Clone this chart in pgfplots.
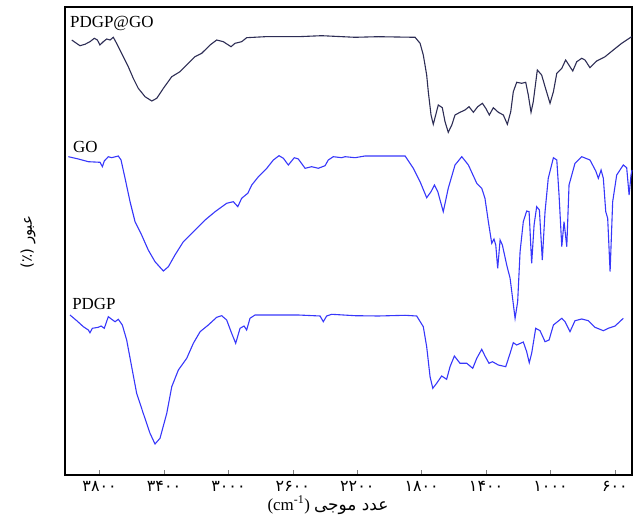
\documentclass[border=0pt]{standalone}
\usepackage{pgfplots}
\pgfplotsset{compat=1.18}
\usepackage{fontspec}
\setmainfont{Liberation Serif}
\newfontfamily\arabicfont[Script=Arabic]{DejaVu Sans}
\TeXXeTstate=1
\definecolor{navy}{RGB}{45,45,85}
\definecolor{irblue}{RGB}{55,55,250}
\begin{document}
\begin{tikzpicture}
\begin{axis}[name=ax,
  scale only axis, width=567bp, height=468bp,
  x dir=reverse, xmin=494, xmax=4015, ymin=0, ymax=468,
  axis line style={line width=1.6bp},
  xtick={600,1000,1400,1800,2200,2600,3000,3400,3800},
  xticklabels={۶۰۰,۱۰۰۰,۱۴۰۰,۱۸۰۰,۲۲۰۰,۲۶۰۰,۳۰۰۰,۳۴۰۰,۳۸۰۰},
  xticklabel style={font=\arabicfont\fontsize{16}{16}\selectfont, anchor=base, inner sep=0pt, yshift=-16bp},
  ytick=\empty,
  xtick pos=bottom, tick align=inside,
  major tick length=5bp,
  every tick/.style={gray, line width=0.6bp},
  clip=false,
]
% PDGP@GO
\addplot[navy, line width=1.1bp] coordinates {
(3973,435)(3953,432.7)(3922,429.3)(3891,430.7)(3860,433.3)(3833,436.7)(3814,435)(3798,430)
(3777,433.3)(3756,436)(3735,435)(3715,437.7)(3700,433.3)(3684,428.3)(3653,418.3)(3622,408.3)
(3591,396.7)(3560,386.7)(3518,378.3)(3476,374)(3445,376.7)(3404,386.7)(3352,398.3)(3301,403.3)
(3249,411.7)(3208,418.3)(3166,421.7)(3114,430)(3073,435)(3032,433.3)(2984,428.3)(2959,431.7)
(2918,433.3)(2887,437.3)(2773,438.3)(2568,438.3)(2421,439.3)(2214,437.7)(2071,438.3)(1841,437.7)
(1810,431.7)(1790,420)(1769,400)(1759,383.3)(1742,360)(1728,350.7)(1713,360)(1697,370)
(1672,367.3)(1655,353.3)(1635,342.7)(1613,350)(1593,360)(1562,362.7)(1531,365)(1506,368.3)
(1479,362.7)(1452,368.3)(1423,371.7)(1402,366.7)(1380,360)(1355,367.3)(1324,362.7)(1293,360)
(1268,350.7)(1247,363.3)(1231,383.3)(1210,392.7)(1179,391.7)(1154,392.7)(1138,380)(1121,362.7)
(1107,373.3)(1082,405)(1055,400)(1034,388.3)(1003,371.7)(982,383.3)(961,401.7)(930,406.7)
(906,415)(862,404)(837,413.3)(806,416.7)(786,415)(755,407.3)(713,414)(661,418.3)
(610,425)(558,431.7)(496,438.3)
};
% GO
\addplot[irblue, line width=1.1bp] coordinates {
(3994,318.3)(3932,316)(3870,313.3)(3797,312.7)(3783,308.3)(3771,314)(3746,318.3)(3725,317.3)
(3684,319)(3667,315)(3642,296.7)(3611,273.3)(3580,253.3)(3539,240)(3498,225)(3456,213.3)
(3404,204)(3373,208.3)(3332,220)(3280,233.3)(3218,243.3)(3145,255)(3083,263.3)(3011,271.7)
(2970,273.3)(2955,270.7)(2942,268.3)(2918,276.7)(2880,281.7)(2855,290)(2814,298.3)(2762,306.7)
(2721,315)(2686,319.3)(2659,316.7)(2628,310)(2591,317.3)(2566,316)(2524,306.7)(2483,308.3)
(2442,306.7)(2400,309.3)(2380,315)(2349,318.3)(2297,317.3)(2276,318.3)(2214,317.3)(2152,319)
(1903,319)(1852,306.7)(1810,293.3)(1769,277.3)(1742,283.3)(1721,290)(1700,283.3)(1666,263.3)
(1635,286.7)(1593,310)(1551,318.3)(1510,310)(1458,291.7)(1427,286.7)(1407,276.7)(1386,253.3)
(1365,231.7)(1351,236)(1340,230)(1328,206.7)(1313,235)(1299,230)(1272,210)(1251,196.7)
(1220,156.7)(1204,173.3)(1189,223.3)(1169,253.3)(1148,264)(1133,263.3)(1117,211.7)(1102,250)
(1086,268.3)(1069,265)(1051,215)(1034,263.3)(1014,296.7)(982,317.3)(961,315)(947,280)
(930,228.3)(916,253.3)(899,228.3)(885,290)(848,311.7)(806,318.3)(755,315)(719,304)
(703,296.7)(686,305)(672,296.7)(657,263.3)(645,256.7)(630,203.3)(614,273.3)(589,300)
(548,310)(527,307.3)(512,280)(500,300)(494,305)
};
% PDGP
\addplot[irblue, line width=1.1bp] coordinates {
(3984,160)(3942,154.3)(3901,148.3)(3870,145)(3860,142.3)(3845,146.7)(3808,147.7)(3791,149)
(3771,146.7)(3746,158.3)(3725,155.7)(3704,153.3)(3684,155.7)(3659,150)(3632,135)(3601,108.3)
(3570,81.7)(3529,61.7)(3487,41.7)(3456,31)(3425,36.7)(3383,61.7)(3352,88.3)(3311,105)
(3259,116.7)(3218,131.7)(3176,143.3)(3125,150)(3073,157.7)(3042,159.3)(3011,155)(2980,141.7)
(2955,131.7)(2928,146.7)(2903,149)(2887,145)(2866,156.7)(2835,160)(2566,160)(2431,159)
(2411,153.3)(2390,159)(2359,160.7)(2214,159.3)(2069,159)(1903,159.7)(1831,159)(1790,148.3)
(1769,128.3)(1748,98.3)(1731,86.7)(1707,91.7)(1676,99)(1645,95.7)(1624,108.3)(1597,119)
(1562,111.7)(1520,111.7)(1483,106.7)(1458,116.7)(1427,125.7)(1407,119)(1382,111.7)(1361,113.3)
(1324,110)(1278,108.3)(1251,121.7)(1231,132.3)(1210,130)(1169,133)(1148,123.3)(1132,112.3)
(1117,121.7)(1092,146.7)(1065,144.3)(1034,133.3)(1009,135)(982,150)(930,156.7)(910,153.3)
(879,143.3)(848,154.3)(806,156)(765,154.3)(724,147.7)(672,144.3)(641,146.7)(599,149)
(548,156.7)
};
\node[anchor=base west, font=\fontsize{17}{17}\selectfont, inner sep=0pt] at (axis cs:3984,447.5) {PDGP@GO};
\node[anchor=base west, font=\fontsize{17}{17}\selectfont, inner sep=0pt] at (axis cs:3965,322) {GO};
\node[anchor=base west, font=\fontsize{17}{17}\selectfont, inner sep=0pt] at (axis cs:3971,165) {PDGP};
\end{axis}
\node[anchor=base, inner sep=0pt] at ([xshift=263bp,yshift=-35bp]ax.south west)
  {\fontsize{17}{17}\selectfont (cm\textsuperscript{-1}) {\arabicfont\fontsize{17}{17}\selectfont\beginR عدد موجی\endR}};
\node[rotate=90, inner sep=0pt] at ([xshift=-37bp,yshift=233bp]ax.south west)
  {\arabicfont\fontsize{15}{15}\selectfont (٪) \beginR عبور\endR};
\path (ax.south west) ++(-65bp,-49bp);
\path (ax.north east) ++(4bp,7bp);
\end{tikzpicture}
\end{document}
